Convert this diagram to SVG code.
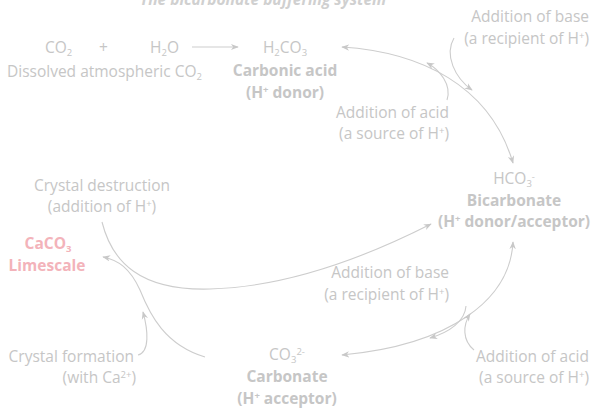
<svg xmlns="http://www.w3.org/2000/svg" width="593" height="408" viewBox="0 0 593 408">
<defs>
<style>
text{font-family:"Open Sans","Noto Sans","Liberation Sans",sans-serif;font-size:15.5px;fill:#c6c6c6}
.b{font-weight:bold}
.m{text-anchor:middle}
.e{text-anchor:end}
.pink{fill:#f3b3ba}
.sub{font-size:9.5px}
.c{fill:none;stroke:#cdcdcd;stroke-width:1.1}
</style>
<marker id="ah" viewBox="0 0 10 10" refX="9" refY="5" markerWidth="8" markerHeight="8" markerUnits="userSpaceOnUse" orient="auto-start-reverse">
<path d="M0,1 L10,5 L0,9 L3,5 Z" fill="#c8c8c8"/>
</marker>
</defs>
<rect width="593" height="408" fill="#fff"/>
<text class="b m" x="263" y="5" font-style="italic" style="fill:#d0d0d0">The bicarbonate buffering system</text>

<g id="co2">
<text x="45" y="53">CO<tspan class="sub" dy="3">2</tspan></text>
<text x="99" y="53">+</text>
<text x="150" y="53">H<tspan class="sub" dy="3">2</tspan><tspan dy="-3">O</tspan></text>
<text x="7" y="77">Dissolved atmospheric CO<tspan class="sub" dy="3">2</tspan></text>
</g>
<g id="h2co3">
<text class="m" x="285" y="53">H<tspan class="sub" dy="3">2</tspan><tspan dy="-3">CO</tspan><tspan class="sub" dy="3">3</tspan></text>
<text class="b m" x="285" y="76">Carbonic acid</text>
<text class="b m" x="285" y="98">(H<tspan class="sub" dy="-5">+</tspan><tspan dy="5"> donor)</tspan></text>
</g>
<g id="base-top">
<text class="e" x="589" y="22">Addition of base</text>
<text class="e" x="589" y="44">(a recipient of H<tspan class="sub" dy="-5">+</tspan><tspan dy="5">)</tspan></text>
</g>
<g id="acid-top">
<text class="e" x="449" y="118">Addition of acid</text>
<text class="e" x="449" y="139">(a source of H<tspan class="sub" dy="-5">+</tspan><tspan dy="5">)</tspan></text>
</g>
<g id="hco3">
<text class="m" x="514" y="184">HCO<tspan class="sub" dy="3">3</tspan><tspan class="sub" dy="-7">-</tspan></text>
<text class="b m" x="514" y="206">Bicarbonate</text>
<text class="b m" x="514" y="227">(H<tspan class="sub" dy="-5">+</tspan><tspan dy="5"> donor/acceptor)</tspan></text>
</g>
<g id="destruction">
<text class="m" x="102" y="191">Crystal destruction</text>
<text class="m" x="102" y="212">(addition of H<tspan class="sub" dy="-5">+</tspan><tspan dy="5">)</tspan></text>
</g>
<g id="caco3">
<text class="b m pink" x="48" y="249">CaCO<tspan class="sub" dy="3">3</tspan></text>
<text class="b m pink" x="47" y="271">Limescale</text>
</g>
<g id="base-bottom">
<text class="e" x="449" y="278">Addition of base</text>
<text class="e" x="449" y="300">(a recipient of H<tspan class="sub" dy="-5">+</tspan><tspan dy="5">)</tspan></text>
</g>
<g id="formation">
<text class="e" x="134" y="362">Crystal formation</text>
<text class="e" x="136" y="383">(with Ca<tspan class="sub" dy="-5">2+</tspan><tspan dy="5">)</tspan></text>
</g>
<g id="co3">
<text class="m" x="287" y="360">CO<tspan class="sub" dy="3">3</tspan><tspan class="sub" dy="-8">2-</tspan></text>
<text class="b m" x="287" y="382">Carbonate</text>
<text class="b m" x="287" y="404">(H<tspan class="sub" dy="-5">+</tspan><tspan dy="5"> acceptor)</tspan></text>
</g>
<g id="acid-bottom">
<text class="e" x="589" y="362">Addition of acid</text>
<text class="e" x="589" y="383">(a source of H<tspan class="sub" dy="-5">+</tspan><tspan dy="5">)</tspan></text>
</g>

<g id="connectors">
<path class="c" d="M192,47 L238,47" marker-end="url(#ah)"/>
<path class="c" d="M342,47 C420,52 490,85 513,163" marker-start="url(#ah)" marker-end="url(#ah)"/>
<path class="c" d="M454,38 C444,55 455,78 472,90" marker-end="url(#ah)"/>
<path class="c" d="M447,100 C452,85 440,70 427,63" marker-end="url(#ah)"/>
<path class="c" d="M513,242 C510,300 450,345 342,355" marker-start="url(#ah)" marker-end="url(#ah)"/>
<path class="c" d="M466,306 C465,321 450,332 430,338" marker-end="url(#ah)"/>
<path class="c" d="M474,350 C462,340 463,325 470,314" marker-end="url(#ah)"/>
<path class="c" d="M102,222 C112,262 140,291 210,289 C285,287 362,259 431,224" marker-end="url(#ah)"/>
<path class="c" d="M205,357 C165,345 150,315 140,290 C130,268 118,260 103,257" marker-end="url(#ah)"/>
<path class="c" d="M138,355 C150,352 148,330 143,312" marker-end="url(#ah)"/>
</g>
</svg>
